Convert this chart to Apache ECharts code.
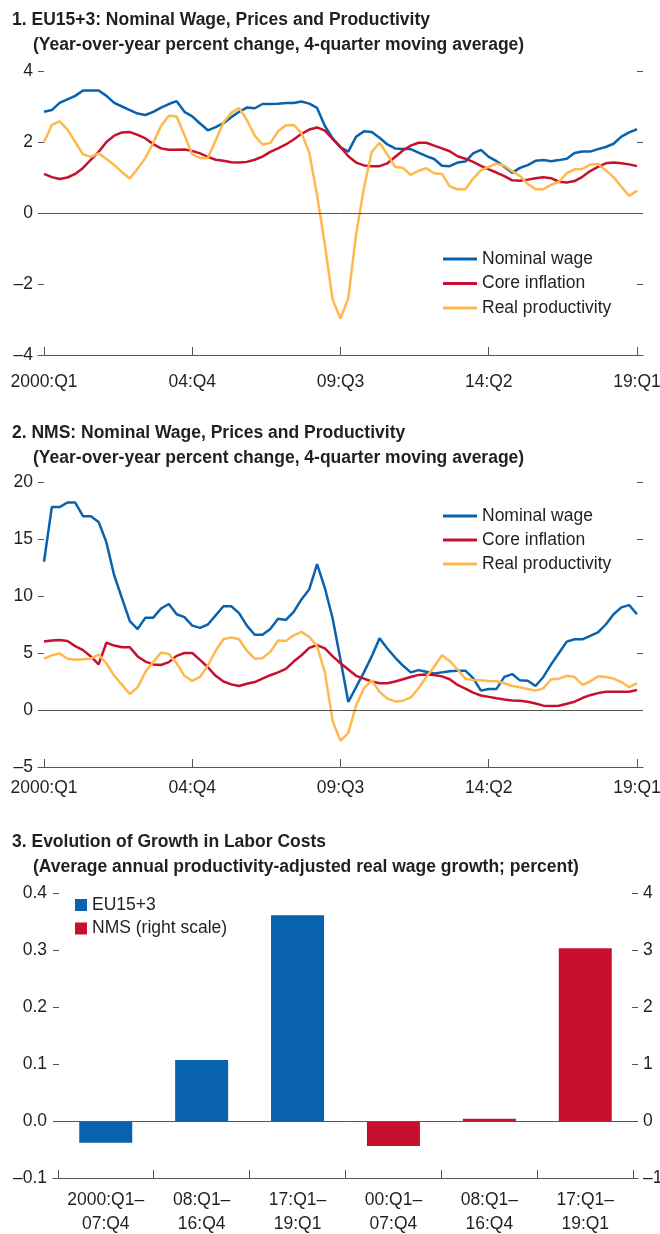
<!DOCTYPE html>
<html><head><meta charset="utf-8">
<script src="https://cdn.jsdelivr.net/npm/echarts@6/dist/echarts.min.js"></script>
<style>html,body{margin:0;padding:0;background:#fff}#c{width:660px;height:1234px}</style>
</head><body><div id="c"></div>
<script>
const FONT = "'Liberation Sans', Arial, Helvetica, sans-serif";
const FS = 17.5;
const TXT = '#231f20';
const AX = '#555';
const BLUE = '#0862ae', RED = '#c8102e', YEL = '#ffb84d';

// quarterly x positions: index 0 = 2000:Q1 ... 76 = 19:Q1
const tickIdx = [0, 19, 38, 57, 76];
const tickLabels = ['2000:Q1', '04:Q4', '09:Q3', '14:Q2', '19:Q1'];
const seriesNames = ['Nominal wage', 'Core inflation', 'Real productivity'];

const euWage = [2.85,2.90,3.10,3.20,3.30,3.45,3.45,3.45,3.30,3.10,
  3.00,2.90,2.80,2.76,2.85,2.97,3.07,3.15,2.85,2.72,
  2.52,2.33,2.42,2.53,2.70,2.85,2.97,2.95,3.07,3.07,
  3.08,3.10,3.10,3.14,3.08,2.96,2.45,2.10,1.85,1.73,
  2.15,2.30,2.28,2.12,1.93,1.82,1.80,1.80,1.70,1.60,
  1.52,1.33,1.32,1.42,1.45,1.68,1.78,1.58,1.46,1.30,
  1.13,1.27,1.35,1.47,1.49,1.46,1.49,1.53,1.69,1.73,
  1.73,1.80,1.86,1.95,2.15,2.27,2.36];
const euCore = [1.10,1.01,0.96,1.00,1.10,1.27,1.50,1.72,2.00,2.18,
  2.27,2.28,2.20,2.10,1.94,1.82,1.78,1.78,1.79,1.75,
  1.68,1.58,1.50,1.47,1.43,1.42,1.44,1.50,1.59,1.72,
  1.82,1.93,2.07,2.23,2.35,2.41,2.32,2.08,1.86,1.60,
  1.42,1.34,1.32,1.32,1.40,1.58,1.76,1.90,1.98,1.98,
  1.90,1.82,1.74,1.60,1.53,1.44,1.33,1.23,1.14,1.04,
  0.92,0.91,0.94,0.98,1.01,0.98,0.88,0.86,0.90,1.02,
  1.18,1.30,1.40,1.42,1.40,1.37,1.32];
const euProd = [2.00,2.48,2.58,2.35,2.00,1.65,1.58,1.68,1.52,1.35,
  1.15,0.97,1.25,1.55,1.98,2.45,2.74,2.72,2.20,1.65,
  1.55,1.55,2.05,2.55,2.82,2.96,2.62,2.18,1.93,1.97,
  2.30,2.47,2.48,2.25,1.70,0.50,-0.90,-2.45,-2.97,-2.40,
  -0.60,0.70,1.72,1.98,1.65,1.30,1.27,1.07,1.19,1.26,
  1.12,1.10,0.75,0.67,0.67,0.97,1.20,1.30,1.39,1.33,
  1.18,1.04,0.82,0.67,0.67,0.79,0.88,1.12,1.23,1.24,
  1.36,1.38,1.20,1.01,0.74,0.48,0.63];

const nmsWage = [13.0,17.8,17.8,18.2,18.2,17.0,17.0,16.5,14.7,11.8,
  9.8,7.8,7.1,8.1,8.1,8.9,9.3,8.4,8.15,7.4,
  7.2,7.5,8.3,9.1,9.1,8.5,7.4,6.6,6.6,7.1,
  8.0,7.9,8.6,9.7,10.6,12.8,10.7,8.0,4.4,0.7,
  2.0,3.3,4.7,6.3,5.4,4.6,3.9,3.3,3.5,3.35,
  3.2,3.3,3.4,3.45,3.45,2.8,1.7,1.85,1.85,2.9,
  3.15,2.6,2.57,2.1,2.9,4.0,5.0,6.0,6.2,6.2,
  6.5,6.8,7.5,8.4,9.0,9.2,8.4];
const nmsCore = [6.0,6.1,6.15,6.05,5.6,5.25,4.7,4.0,5.9,5.65,
  5.5,5.5,4.7,4.25,4.0,3.95,4.2,4.75,5.0,5.0,
  4.4,3.75,3.0,2.5,2.25,2.1,2.3,2.45,2.75,3.05,
  3.3,3.6,4.25,4.8,5.45,5.7,5.4,4.7,4.1,3.55,
  3.0,2.75,2.5,2.34,2.34,2.5,2.7,2.9,3.08,3.12,
  3.07,2.95,2.7,2.2,1.88,1.52,1.27,1.15,1.03,0.92,
  0.83,0.82,0.72,0.57,0.38,0.35,0.38,0.55,0.73,1.05,
  1.3,1.48,1.6,1.6,1.6,1.6,1.75];
const nmsProd = [4.5,4.8,4.95,4.5,4.4,4.45,4.5,4.85,4.1,3.0,
  2.2,1.4,2.0,3.35,4.2,5.05,4.9,4.1,3.0,2.55,
  2.9,3.9,5.2,6.2,6.37,6.2,5.2,4.5,4.55,5.1,
  6.1,6.05,6.55,6.85,6.4,5.6,3.3,-1.0,-2.7,-2.0,
  0.4,1.9,2.6,1.6,1.0,0.75,0.82,1.1,1.9,2.9,
  3.8,4.8,4.3,3.55,2.75,2.63,2.6,2.55,2.52,2.35,
  2.1,2.0,1.85,1.7,1.9,2.7,2.75,3.0,2.9,2.2,
  2.5,2.95,2.9,2.75,2.45,2.0,2.35];

const barCats = ['2000:Q1–\n07:Q4','08:Q1–\n16:Q4','17:Q1–\n19:Q1','00:Q1–\n07:Q4','08:Q1–\n16:Q4','17:Q1–\n19:Q1'];
const euBars = [-0.038, 0.107, 0.361];   // categories 0..2, left scale
const nmsBars = [-0.44, 0.04, 3.03];     // categories 3..5, right scale
const barNames = ['EU15+3', 'NMS (right scale)'];

const dash = v => String(v).replace('-', '–');
const pairs = (arr, off) => arr.map((v, i) => [i + (off || 0), v]);

const chart = echarts.init(document.getElementById('c'), null, {renderer: 'canvas'});

const titleStyle = {fontSize: FS, fontWeight: 'bold', color: TXT, fontFamily: FONT};
const lblStyle = {fontSize: FS, color: TXT, fontFamily: FONT};

function qxAxis(g, margin) {
  return {
    gridIndex: g, type: 'value', min: -0.77, max: 76.77,
    axisLine: {onZero: false, lineStyle: {color: AX, width: 1}},
    axisTick: {show: true, inside: true, length: 8, customValues: tickIdx, lineStyle: {color: AX}},
    axisLabel: Object.assign({customValues: tickIdx, margin: margin,
      formatter: v => tickLabels[tickIdx.indexOf(Math.round(v))]}, lblStyle),
    splitLine: {show: false}
  };
}
function yAx(g, pos, min, max, interval, showLabel, margin, fmt) {
  return {
    gridIndex: g, type: 'value', position: pos, min: min, max: max, interval: interval,
    axisLine: {show: false, onZero: false},
    axisTick: {show: true, inside: true, length: 6, lineStyle: {color: AX}},
    axisLabel: Object.assign({show: showLabel, margin: margin, formatter: fmt || dash}, lblStyle),
    splitLine: {show: false}
  };
}
const zeroLine = {
  silent: true, symbol: ['none', 'none'], label: {show: false},
  lineStyle: {color: AX, width: 1, type: 'solid'}, data: [{yAxis: 0}]
};
function lineS(name, data, color, xi, yi, withZero) {
  const s = {type: 'line', name: name, data: pairs(data), xAxisIndex: xi, yAxisIndex: yi,
    showSymbol: false, symbol: 'none', lineStyle: {width: 2.5, color: color}, itemStyle: {color: color}, z: 3};
  if (withZero) s.markLine = zeroLine;
  return s;
}

const option = {
  animation: false,
  backgroundColor: '#fff',
  textStyle: {fontFamily: FONT},
  title: [
    {text: '1. EU15+3: Nominal Wage, Prices and Productivity', left: 12, top: 11, padding: 0, textStyle: titleStyle},
    {text: '(Year-over-year percent change, 4-quarter moving average)', left: 33, top: 36, padding: 0, textStyle: titleStyle},
    {text: '2. NMS: Nominal Wage, Prices and Productivity', left: 12, top: 424, padding: 0, textStyle: titleStyle},
    {text: '(Year-over-year percent change, 4-quarter moving average)', left: 33, top: 449, padding: 0, textStyle: titleStyle},
    {text: '3. Evolution of Growth in Labor Costs', left: 12, top: 833, padding: 0, textStyle: titleStyle},
    {text: '(Average annual productivity-adjusted real wage growth; percent)', left: 33, top: 858, padding: 0, textStyle: titleStyle}
  ],
  legend: [
    {data: seriesNames, orient: 'vertical', left: 443, top: 250, padding: 0, icon: 'rect',
      itemWidth: 34, itemHeight: 3, itemGap: 6.5, textStyle: lblStyle},
    {data: seriesNames, orient: 'vertical', left: 443, top: 507, padding: 0, icon: 'rect',
      itemWidth: 34, itemHeight: 3, itemGap: 6, textStyle: lblStyle},
    {data: barNames, orient: 'vertical', left: 75, top: 896, padding: 0, icon: 'rect',
      itemWidth: 12, itemHeight: 12, itemGap: 5.5, textStyle: lblStyle}
  ],
  grid: [
    {left: 38, right: 17, top: 71, height: 284, outerBoundsMode: 'none', containLabel: false},
    {left: 38, right: 17, top: 482, height: 285, outerBoundsMode: 'none', containLabel: false},
    {left: 53, right: 22, top: 893, height: 285, outerBoundsMode: 'none', containLabel: false}
  ],
  xAxis: [
    qxAxis(0, 18),
    qxAxis(1, 12),
    {
      gridIndex: 2, type: 'value', min: -0.55, max: 5.55,
      axisLine: {onZero: false, lineStyle: {color: AX, width: 1}},
      axisTick: {show: true, inside: true, length: 8, customValues: [-0.5, 0.5, 1.5, 2.5, 3.5, 4.5, 5.5], lineStyle: {color: AX}},
      axisLabel: Object.assign({customValues: [0, 1, 2, 3, 4, 5], margin: 10, lineHeight: 24,
        formatter: v => barCats[Math.round(v)]}, lblStyle),
      splitLine: {show: false}
    }
  ],
  yAxis: [
    yAx(0, 'left', -4, 4, 2, true, 5),
    yAx(0, 'right', -4, 4, 2, false, 5),
    yAx(1, 'left', -5, 20, 5, true, 5),
    yAx(1, 'right', -5, 20, 5, false, 5),
    yAx(2, 'left', -0.1, 0.4, 0.1, true, 6, v => dash(v.toFixed(1))),
    yAx(2, 'right', -1, 4, 1, true, 5, v => dash(Math.round(v)))
  ],
  series: [
    lineS(seriesNames[0], euWage, BLUE, 0, 0, true),
    lineS(seriesNames[1], euCore, RED, 0, 0, false),
    lineS(seriesNames[2], euProd, YEL, 0, 0, false),
    lineS(seriesNames[0], nmsWage, BLUE, 1, 2, true),
    lineS(seriesNames[1], nmsCore, RED, 1, 2, false),
    lineS(seriesNames[2], nmsProd, YEL, 1, 2, false),
    {type: 'bar', name: barNames[0], xAxisIndex: 2, yAxisIndex: 4, data: pairs(euBars, 0),
      barWidth: 53, barGap: '-100%', itemStyle: {color: BLUE}, markLine: zeroLine},
    {type: 'bar', name: barNames[1], xAxisIndex: 2, yAxisIndex: 5, data: pairs(nmsBars, 3),
      barWidth: 53, barGap: '-100%', itemStyle: {color: RED}}
  ]
};
chart.setOption(option);
</script>
</body></html>
